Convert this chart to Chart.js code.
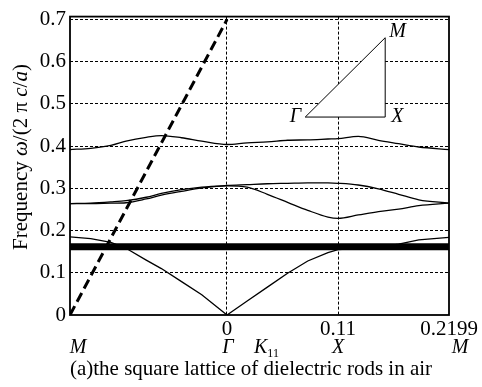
<!DOCTYPE html>
<html lang="en">
<head>
<meta charset="UTF-8">
<title>Band structure - square lattice of dielectric rods in air</title>
<script src="https://cdn.jsdelivr.net/npm/chart.js"></script>
<style>
  body { margin: 0; padding: 0; background: #ffffff; }
  #wrap { width: 482px; height: 387px; }
</style>
</head>
<body>
<div id="wrap"><canvas id="bandChart" width="482" height="387"></canvas></div>
<script>
// wave vector along M -> Gamma -> X -> M (Gamma placed at 0)
var kPath = [-0.1555, -0.135, -0.115, -0.1, -0.08, -0.065, -0.045, -0.025, 0, 0.02, 0.04, 0.06, 0.08, 0.1, 0.11, 0.13, 0.15, 0.17, 0.19, 0.2199];
var band1 = [0.185, 0.181, 0.172, 0.158, 0.130, 0.110, 0.079, 0.048, 0.000, 0.033, 0.066, 0.099, 0.128, 0.148, 0.155, 0.158, 0.161, 0.168, 0.178, 0.184];
var band2 = [0.264, 0.264, 0.265, 0.266, 0.275, 0.284, 0.293, 0.301, 0.306, 0.303, 0.286, 0.267, 0.248, 0.232, 0.229, 0.237, 0.245, 0.251, 0.259, 0.265];
var band3 = [0.264, 0.265, 0.268, 0.271, 0.279, 0.288, 0.297, 0.303, 0.307, 0.309, 0.311, 0.312, 0.313, 0.313, 0.312, 0.308, 0.299, 0.286, 0.273, 0.265];
var band4 = [0.392, 0.395, 0.402, 0.412, 0.421, 0.425, 0.420, 0.412, 0.404, 0.408, 0.410, 0.414, 0.415, 0.417, 0.418, 0.423, 0.414, 0.406, 0.398, 0.392];

// flat (defect) band across the whole path
var flatK = [-0.1555, 0.2199];
var flatBand = [0.162, 0.162];

// light line
var lightK = [-0.1555, 0];
var lightW = [0, 0.7];

// axis ticks
var xTicks = [-0.1555, 0, 0.11, 0.2199];
var xTickLabels = ['', '0', '0.11', '0.2199'];
var yTicks = [0, 0.1, 0.2, 0.3, 0.4, 0.5, 0.6, 0.7];
var yTickLabels = ['0', '0.1', '0.2', '0.3', '0.4', '0.5', '0.6', '0.7'];
var symPoints = ['M', 'Γ', 'X', 'M'];

// inset Brillouin zone triangle: Gamma, X, M corners
var insetK = [0.0775, 0.1567, 0.1567];
var insetW = [0.469, 0.469, 0.657];

function pts(xs, ys) {
    return xs.map(function (x, i) { return { x: x, y: ys[i] }; });
}

var serif = '"Liberation Serif", "Times New Roman", serif';

function drawRich(ctx, parts, x, y) {
    var total = 0;
    parts.forEach(function (p) { ctx.font = p[1]; total += ctx.measureText(p[0]).width; });
    var cx = x - total / 2;
    parts.forEach(function (p) {
        ctx.font = p[1];
        ctx.fillText(p[0], cx, y + (p[2] || 0));
        cx += ctx.measureText(p[0]).width;
    });
}

var extras = {
    id: 'extras',
    beforeDatasetsDraw: function (chart) {
        var ctx = chart.ctx, xs = chart.scales.x, ys = chart.scales.y;
        var p = insetK.map(function (k, i) { return [xs.getPixelForValue(k), ys.getPixelForValue(insetW[i])]; });
        ctx.save();
        ctx.beginPath();
        ctx.moveTo(p[0][0], p[0][1]);
        ctx.lineTo(p[1][0], p[1][1]);
        ctx.lineTo(p[2][0], p[2][1]);
        ctx.closePath();
        ctx.fillStyle = '#fff';
        ctx.fill();
        ctx.strokeStyle = '#000';
        ctx.lineWidth = 1;
        ctx.stroke();
        ctx.fillStyle = '#000';
        ctx.font = 'italic 20px ' + serif;
        ctx.textBaseline = 'middle';
        ctx.textAlign = 'right';
        ctx.fillText('Γ', p[0][0] - 4, p[0][1]);
        ctx.textAlign = 'left';
        ctx.fillText('X', p[1][0] + 6, p[1][1]);
        ctx.fillText('M', p[2][0] + 4, p[2][1] - 6);
        ctx.restore();
    },
    afterDraw: function (chart) {
        var ctx = chart.ctx, a = chart.chartArea, xs = chart.scales.x;
        ctx.save();
        // frame
        ctx.strokeStyle = '#000';
        ctx.lineWidth = 1.8;
        ctx.strokeRect(a.left, a.top, a.right - a.left, a.bottom - a.top);

        ctx.fillStyle = '#000';
        ctx.textBaseline = 'middle';
        // symmetry point labels
        var dx = [8, 1, 0, 11];
        ctx.textAlign = 'center';
        ctx.font = 'italic 20px ' + serif;
        symPoints.forEach(function (s, i) {
            ctx.fillText(s, xs.getPixelForValue(xTicks[i]) + dx[i], 348);
        });
        var kx = xs.getPixelForValue(0) + 27;
        ctx.textAlign = 'left';
        ctx.fillText('K', kx, 348);
        var kw = ctx.measureText('K').width;
        ctx.font = '12px ' + serif;
        ctx.fillText('11', kx + kw, 354);

        // caption
        drawRich(ctx, [['(a)the square lattice of dielectric rods in air', '21px ' + serif]], 251, 369);

        // y title
        ctx.translate(21, 157);
        ctx.rotate(-Math.PI / 2);
        var n = '21px ' + serif, it = 'italic 21px ' + serif;
        drawRich(ctx, [['Frequency ', n], ['ω', it], ['/(2 π ', n], ['c', it], ['/', n], ['a', it], [')', n]], 0, 0);
        ctx.restore();
    }
};

var lineStyle = { showLine: true, pointRadius: 0, borderColor: '#000', borderWidth: 1.3, cubicInterpolationMode: 'monotone', fill: false };

new Chart(document.getElementById('bandChart').getContext('2d'), {
    type: 'scatter',
    data: {
        datasets: [
            { data: pts(kPath, band1), showLine: true, pointRadius: 0, borderColor: '#000', borderWidth: 1.3, tension: 0 },
            Object.assign({ data: pts(kPath, band2) }, lineStyle),
            Object.assign({ data: pts(kPath, band3) }, lineStyle),
            Object.assign({ data: pts(kPath, band4) }, lineStyle),
            { data: pts(flatK, flatBand), showLine: true, pointRadius: 0, borderColor: '#000', borderWidth: 7 },
            { data: pts(lightK, lightW), showLine: true, pointRadius: 0, borderColor: '#000', borderWidth: 3, borderDash: [10, 5] }
        ]
    },
    options: {
        responsive: false,
        animation: false,
        layout: { padding: { top: 16, right: 33, left: 0, bottom: 0 } },
        plugins: { legend: { display: false }, tooltip: { enabled: false } },
        scales: {
            x: {
                type: 'linear',
                min: -0.1555,
                max: 0.2199,
                afterBuildTicks: function (s) { s.ticks = xTicks.map(function (v) { return { value: v }; }); },
                afterFit: function (s) { s.height = 72; },
                ticks: {
                    autoSkip: false,
                    maxRotation: 0,
                    padding: 2,
                    color: '#000',
                    font: { family: serif, size: 21 },
                    callback: function (v, i) { return xTickLabels[i]; }
                },
                grid: {
                    drawTicks: false,
                    lineWidth: 1,
                    borderDash: [3, 2],
                    color: function (c) { return (c.tick && (c.tick.value === 0 || c.tick.value === 0.11)) ? '#000' : 'rgba(0,0,0,0)'; }
                },
                border: { display: false, dash: [3, 2] }
            },
            y: {
                min: 0,
                max: 0.707,
                afterBuildTicks: function (s) { s.ticks = yTicks.map(function (v) { return { value: v }; }); },
                afterFit: function (s) { s.width = 70; },
                ticks: {
                    padding: 4,
                    color: '#000',
                    font: { family: serif, size: 21 },
                    callback: function (v, i) { return yTickLabels[i]; }
                },
                grid: {
                    drawTicks: false,
                    lineWidth: 1,
                    borderDash: [3, 2],
                    color: function (c) { return (c.tick && c.tick.value > 0) ? '#000' : 'rgba(0,0,0,0)'; }
                },
                border: { display: false, dash: [3, 2] }
            }
        }
    },
    plugins: [extras]
});
</script>
</body>
</html>
